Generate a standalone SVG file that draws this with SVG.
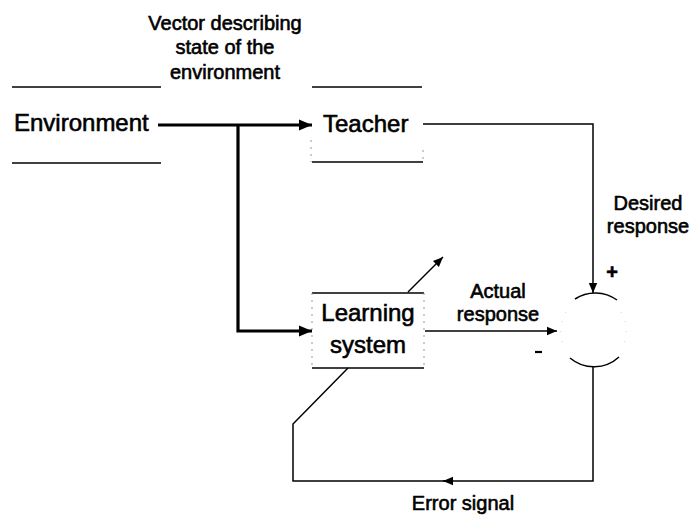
<svg xmlns="http://www.w3.org/2000/svg" width="691" height="516" viewBox="0 0 691 516">
  <style>
    text { font-family: "Liberation Sans", Arial, sans-serif; fill: #000; stroke: #000; stroke-width: 0.6; }
    .node { font-size: 24px; }
    .lbl { font-size: 20px; text-anchor: middle; }
    .rule { stroke: #000; stroke-width: 1.6; fill: none; }
    .faint { stroke: #999; stroke-width: 1; fill: none; stroke-dasharray: 2 5; }
    .ghost { stroke: #ccc; stroke-width: 1; fill: none; stroke-dasharray: 1 9; }
    .thick { stroke: #000; stroke-width: 3.2; fill: none; }
    .thin { stroke: #000; stroke-width: 1.5; fill: none; }
  </style>
  <defs>
    <marker id="headBold" markerUnits="userSpaceOnUse" markerWidth="14" markerHeight="12" refX="13" refY="6" orient="auto">
      <path d="M0,0.5 L13,6 L0,11.5 Z" fill="#000"/>
    </marker>
    <marker id="headThin" markerUnits="userSpaceOnUse" markerWidth="11" markerHeight="10" refX="10" refY="5" orient="auto">
      <path d="M0,0.8 L10,5 L0,9.2 Z" fill="#000"/>
    </marker>
  </defs>

  <rect width="691" height="516" fill="#fff"/>

  <!-- Environment -->
  <g id="environment">
    <line class="rule" x1="12" y1="87" x2="161" y2="87"/>
    <line class="rule" x1="12" y1="163" x2="161" y2="163"/>
    <text class="node" x="14" y="131">Environment</text>
  </g>

  <!-- Teacher -->
  <g id="teacher">
    <line class="rule" x1="312" y1="87" x2="422" y2="87"/>
    <line class="rule" x1="312" y1="162" x2="423" y2="162"/>
    <line class="faint" x1="311" y1="140" x2="311" y2="162"/>
    <line class="faint" x1="423" y1="150" x2="423" y2="162"/>
    <text class="node" x="323" y="132">Teacher</text>
  </g>

  <!-- Learning system -->
  <g id="learning-system">
    <line class="rule" x1="312" y1="293" x2="424" y2="293"/>
    <line class="rule" x1="312" y1="368" x2="424" y2="368"/>
    <line class="faint" x1="312" y1="293" x2="312" y2="368"/>
    <line class="faint" x1="424" y1="293" x2="424" y2="368"/>
    <text class="node" x="368" y="321" text-anchor="middle">Learning</text>
    <text class="node" x="368" y="353" text-anchor="middle">system</text>
  </g>

  <!-- Summing junction -->
  <g id="summer">
    <path class="thin" d="M575,299 A37,37 0 0 1 617,300"/>
    <path class="thin" d="M570,358 A37,37 0 0 0 619,357"/>
    <path class="ghost" d="M566,312 A37,37 0 0 0 566,350"/>
    <path class="ghost" d="M621,312 A37,37 0 0 1 621,350"/>
    <text x="612" y="279" font-size="20" font-weight="bold" text-anchor="middle">+</text>
    <line x1="535" y1="352" x2="542" y2="352" stroke="#000" stroke-width="2.2"/>
  </g>

  <!-- Connectors -->
  <g id="connectors">
    <line class="thick" x1="158" y1="125" x2="312" y2="125" marker-end="url(#headBold)"/>
    <path class="thick" d="M238,125 V331 H312" marker-end="url(#headBold)"/>
    <path class="thin" d="M423,124 H593 V293" marker-end="url(#headThin)"/>
    <line class="thin" x1="425" y1="331" x2="557" y2="331" marker-end="url(#headThin)"/>
    <line class="thin" x1="408" y1="292" x2="443" y2="257" marker-end="url(#headThin)"/>
    <path class="thin" d="M593,367 V481 H443" marker-end="url(#headThin)"/>
    <path class="thin" d="M445,481 H293 V424 L348,368"/>
  </g>

  <!-- Signal labels -->
  <g id="labels">
    <text class="lbl" x="225" y="30">Vector describing</text>
    <text class="lbl" x="225" y="54">state of the</text>
    <text class="lbl" x="225" y="79">environment</text>
    <text class="lbl" x="648" y="210">Desired</text>
    <text class="lbl" x="648" y="233">response</text>
    <text class="lbl" x="498" y="298">Actual</text>
    <text class="lbl" x="498" y="321">response</text>
    <text class="lbl" x="463" y="510">Error signal</text>
  </g>
</svg>
